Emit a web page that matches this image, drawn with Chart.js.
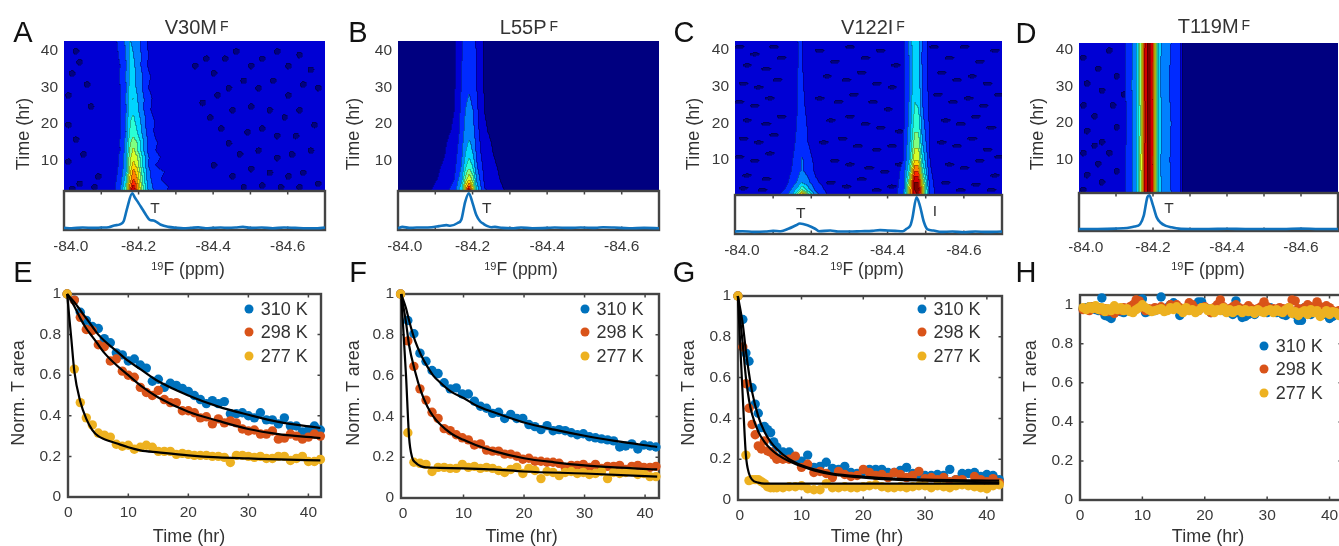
<!DOCTYPE html>
<html>
<head>
<meta charset="utf-8">
<script src="https://cdn.jsdelivr.net/npm/chart.js@4"></script>
<style>
html, body { margin: 0; padding: 0; background: #fff; overflow: hidden; }
#stage { position: absolute; left: 0; top: 0; width: 1339px; height: 546px; overflow: hidden; filter: blur(0.4px); font-family: "Liberation Sans", sans-serif; color: #333; }
#stage canvas { position: absolute; }
.txt { position: absolute; white-space: nowrap; transform: translate(-50%, -50%); }
.txt sup { font-size: 14px; position: relative; top: -3px; vertical-align: baseline; margin-left: 3px; }
.dot { position: absolute; width: 9px; height: 9px; border-radius: 50%; transform: translate(-50%, -50%); }
</style>
</head>
<body>
<div id="stage"></div>
<script>
// tick labels
const ppmTicks = [-84.018, -84.2, -84.4, -84.6];
const ppmMinor = [-84.1, -84.2, -84.3, -84.4, -84.5, -84.6];
const timeTicks = [10, 20, 30, 40];
const hourTicks = [0, 10, 20, 30, 40];
const areaTicks = [0, 0.2, 0.4, 0.6, 0.8, 1];
const tempLabels = ['310 K', '298 K', '277 K'];
const tempColors = ['#0072bd', '#d95319', '#edb120'];

// heat maps: contour level (0-12) per time row and ppm column
const colsA = [-84.09, -84.13, -84.15, -84.165, -84.175, -84.185, -84.195, -84.21, -84.225, -84.245, -84.27, -84.30];
const rowsA = [1.5, 3, 5, 7, 9, 11, 13, 15, 18, 21, 24, 27, 30, 33, 36, 39, 43];
const gridA = [
  [1.4, 1.6, 3.0, 6.0, 10, 12.9, 10, 6.5, 4.0, 2.6, 2.1, 1.5],
  [1.4, 1.7, 2.8, 5.4, 9.2, 11.6, 9.8, 6.2, 3.7, 2.5, 2.2, 1.5],
  [1.4, 1.5, 2.5, 4.6, 8.2, 10.2, 9.2, 5.6, 3.4, 2.3, 1.8, 1.4],
  [1.4, 1.6, 2.3, 4.0, 7.5, 9.5, 8.5, 5.5, 3.3, 2.2, 2.0, 1.4],
  [1.4, 1.5, 2.2, 3.7, 6.8, 8.4, 7.6, 4.8, 3.0, 2.0, 1.7, 1.4],
  [1.4, 1.5, 2.2, 3.8, 6.6, 7.8, 7.2, 4.9, 3.1, 2.2, 1.8, 1.4],
  [1.4, 1.5, 2.0, 3.3, 6.0, 7.3, 6.2, 4.2, 2.7, 2.0, 1.6, 1.4],
  [1.4, 1.4, 2.1, 3.4, 5.8, 6.6, 6.0, 4.3, 2.9, 2.1, 1.5, 1.4],
  [1.4, 1.5, 1.9, 3.0, 5.0, 5.6, 5.0, 3.7, 2.5, 1.8, 1.5, 1.4],
  [1.4, 1.4, 2.0, 3.2, 4.9, 5.2, 4.7, 3.6, 2.5, 1.9, 1.4, 1.4],
  [1.4, 1.5, 1.9, 2.9, 4.6, 4.9, 4.2, 3.2, 2.2, 1.6, 1.4, 1.4],
  [1.4, 1.4, 2.0, 3.1, 4.4, 5.1, 4.1, 3.2, 2.3, 1.7, 1.4, 1.4],
  [1.4, 1.5, 2.0, 2.9, 4.3, 4.4, 3.8, 2.9, 2.0, 1.6, 1.4, 1.4],
  [1.4, 1.5, 2.1, 3.1, 4.1, 4.6, 3.7, 3.0, 2.2, 1.5, 1.4, 1.4],
  [1.4, 1.6, 2.0, 2.9, 4.0, 4.2, 3.6, 2.7, 1.9, 1.5, 1.4, 1.4],
  [1.4, 1.5, 2.2, 3.1, 4.2, 4.0, 3.5, 2.8, 2.0, 1.5, 1.4, 1.4],
  [1.4, 1.7, 2.3, 3.2, 4.0, 3.9, 3.4, 2.6, 1.8, 1.5, 1.4, 1.4]
];
const spotsA = [[-84.35, 36], [-84.38, 38], [-84.40, 34], [-84.43, 38], [-84.46, 40], [-84.50, 36], [-84.53, 38], [-84.57, 40], [-84.60, 36], [-84.63, 39], [-84.66, 35], [-84.68, 30], [-84.64, 31], [-84.60, 28], [-84.56, 32], [-84.52, 30], [-84.48, 32], [-84.44, 30], [-84.41, 28], [-84.37, 26], [-84.45, 24], [-84.50, 25], [-84.55, 24], [-84.59, 22], [-84.63, 24], [-84.67, 20], [-84.62, 17], [-84.57, 17], [-84.53, 19], [-84.49, 18], [-84.44, 15], [-84.42, 19], [-84.39, 22], [-84.47, 12], [-84.52, 13], [-84.57, 11], [-84.61, 12], [-84.66, 13], [-84.64, 7], [-84.60, 6], [-84.55, 7], [-84.50, 8], [-84.45, 6], [-84.40, 9], [-84.48, 3], [-84.53, 3.5], [-84.58, 3], [-84.63, 3], [-84.68, 4], [-84.01, 28], [-84.01, 20], [-84.04, 37], [-84.06, 31], [-84.02, 34], [-84.03, 16], [-84.01, 10], [-84.05, 12], [-84.09, 6], [-84.04, 4], [-84.02, 2.5], [-84.08, 3], [-84.03, 40], [-84.07, 25]];

const colsB = [-84.08, -84.12, -84.15, -84.17, -84.18, -84.19, -84.20, -84.21, -84.23, -84.26, -84.29];
const rowsB = [1.5, 3, 5, 8, 12, 18, 24, 30, 36, 43];
const gridB = [
  [0.9, 1.6, 2.6, 5.0, 9.0, 12.9, 9.0, 5.0, 2.2, 1.6, 0.9],
  [0.8, 1.4, 2.3, 4.5, 8.0, 10.5, 8.0, 4.4, 2.0, 1.4, 0.8],
  [0.7, 1.2, 2.0, 3.8, 6.5, 8.0, 6.5, 3.8, 1.9, 1.2, 0.7],
  [0.6, 1.1, 1.8, 3.2, 5.0, 6.0, 5.0, 3.2, 1.7, 1.1, 0.6],
  [0.5, 0.9, 1.5, 2.9, 4.0, 4.6, 4.0, 2.8, 1.4, 0.9, 0.5],
  [0.4, 0.8, 1.1, 2.5, 3.4, 3.7, 3.3, 2.4, 1.1, 0.8, 0.4],
  [0.4, 0.7, 1.0, 2.3, 3.0, 3.3, 3.0, 2.2, 1.0, 0.7, 0.4],
  [0.4, 0.7, 0.9, 2.1, 2.7, 2.9, 2.6, 2.0, 0.95, 0.7, 0.4],
  [0.4, 0.7, 0.9, 2.0, 2.5, 2.7, 2.5, 1.9, 0.95, 0.7, 0.4],
  [0.4, 0.7, 0.9, 1.9, 2.3, 2.5, 2.3, 1.9, 0.95, 0.7, 0.4]
];
const spotsB = [];

const colsC = [-84.09, -84.13, -84.15, -84.165, -84.175, -84.19, -84.21, -84.25, -84.40, -84.44, -84.455, -84.47, -84.48, -84.49, -84.51, -84.54];
const rowsC = [0.4, 2, 4, 7, 10, 15, 20, 26, 32, 38, 43];
const gridC = [
  [1.3, 2.5, 4.0, 7.0, 10, 7.0, 3.5, 1.5, 1.3, 2.5, 8.0, 11.8, 12, 9.0, 2.5, 1.3],
  [1.2, 2.0, 3.2, 4.6, 6.0, 4.5, 2.8, 1.4, 1.3, 2.4, 7.5, 12, 12.5, 9.0, 2.4, 1.3],
  [1.2, 1.6, 2.5, 3.2, 3.9, 3.3, 2.2, 1.3, 1.3, 2.3, 6.5, 12, 12, 8.0, 2.3, 1.3],
  [1.2, 1.5, 2.1, 2.8, 3.1, 2.7, 1.8, 1.3, 1.3, 2.2, 5.0, 10, 10, 6.0, 2.1, 1.3],
  [1.2, 1.4, 2.0, 2.6, 3.1, 2.5, 1.7, 1.2, 1.3, 2.0, 4.0, 8.0, 8.0, 5.0, 2.0, 1.3],
  [1.2, 1.4, 1.7, 2.4, 2.6, 2.0, 1.3, 1.2, 1.3, 1.9, 3.5, 6.5, 6.5, 4.0, 1.9, 1.2],
  [1.2, 1.3, 1.5, 2.2, 2.4, 1.9, 1.3, 1.2, 1.2, 1.8, 3.2, 5.5, 5.5, 3.4, 1.8, 1.2],
  [1.2, 1.3, 1.5, 2.1, 2.2, 1.7, 1.3, 1.2, 1.2, 1.7, 3.0, 5.0, 4.8, 3.0, 1.7, 1.2],
  [1.2, 1.3, 1.4, 2.1, 2.1, 1.6, 1.3, 1.2, 1.2, 1.7, 3.0, 4.8, 4.5, 2.9, 1.6, 1.2],
  [1.2, 1.3, 1.4, 2.0, 2.0, 1.5, 1.3, 1.2, 1.2, 1.7, 3.0, 4.6, 4.4, 2.8, 1.6, 1.2],
  [1.2, 1.3, 1.5, 2.05, 2.0, 1.5, 1.3, 1.2, 1.2, 1.8, 3.1, 5.0, 4.6, 2.9, 1.6, 1.2]
];
const spotsC = [[-84.01, 41], [-84.05, 39], [-84.1, 41], [-84.03, 36], [-84.08, 35], [-84.12, 38], [-84.02, 31], [-84.06, 30], [-84.11, 32], [-84.01, 26], [-84.05, 25], [-84.09, 27], [-84.03, 21], [-84.08, 20], [-84.12, 22], [-84.02, 16], [-84.06, 15], [-84.1, 17], [-84.01, 11], [-84.05, 10], [-84.09, 12], [-84.03, 6], [-84.08, 5], [-84.02, 2.5], [-84.07, 2],
  [-84.22, 40], [-84.26, 37], [-84.3, 41], [-84.34, 38], [-84.38, 40], [-84.42, 36], [-84.24, 33], [-84.29, 32], [-84.33, 34], [-84.37, 31], [-84.41, 30], [-84.22, 27], [-84.27, 26], [-84.31, 28], [-84.36, 26], [-84.4, 24], [-84.25, 21], [-84.3, 22], [-84.34, 20], [-84.38, 19], [-84.43, 18], [-84.23, 15], [-84.28, 16], [-84.32, 14], [-84.37, 13], [-84.41, 14], [-84.26, 10], [-84.3, 9], [-84.35, 8], [-84.39, 7], [-84.43, 9], [-84.25, 4], [-84.29, 3], [-84.33, 5], [-84.37, 2], [-84.41, 3],
  [-84.52, 41], [-84.56, 38], [-84.6, 41], [-84.64, 37], [-84.68, 40], [-84.54, 34], [-84.58, 32], [-84.62, 33], [-84.66, 31], [-84.53, 28], [-84.57, 26], [-84.61, 27], [-84.65, 25], [-84.69, 28], [-84.55, 21], [-84.59, 20], [-84.63, 22], [-84.67, 19], [-84.54, 15], [-84.58, 14], [-84.62, 16], [-84.66, 13], [-84.69, 11], [-84.56, 9], [-84.6, 8], [-84.64, 10], [-84.68, 6], [-84.55, 4], [-84.59, 2], [-84.63, 3.5], [-84.67, 2]];

const colsD = [-84.02, -84.05, -84.12, -84.135, -84.15, -84.16, -84.17, -84.178, -84.188, -84.198, -84.205, -84.213, -84.225, -84.27, -84.278, -84.32, -84.7];
const rowsD = [1, 10, 20, 30, 42];
const gridD = [
  [1.3, 1.4, 1.7, 2.6, 3.4, 5.0, 8.0, 11.5, 12.5, 11.5, 8.0, 5.0, 3.4, 2.6, 0.9, 0.9, 0.8],
  [1.3, 1.4, 1.7, 2.6, 3.4, 5.2, 8.2, 11.5, 12.5, 11.3, 7.8, 5.0, 3.3, 2.6, 0.9, 0.9, 0.8],
  [1.3, 1.4, 1.6, 2.5, 3.3, 4.8, 7.8, 11.3, 12.5, 11.5, 8.2, 5.2, 3.5, 2.5, 0.9, 0.9, 0.8],
  [1.3, 1.4, 1.7, 2.6, 3.5, 5.1, 8.1, 11.5, 12.4, 11.2, 7.9, 4.9, 3.3, 2.5, 0.9, 0.9, 0.8],
  [1.3, 1.4, 1.7, 2.5, 3.4, 5.0, 8.0, 11.4, 12.5, 11.4, 8.0, 5.0, 3.4, 2.6, 0.9, 0.9, 0.8]
];
const spotsD = [[-84.01, 38], [-84.05, 35], [-84.08, 40], [-84.02, 31], [-84.06, 29], [-84.1, 33], [-84.01, 25], [-84.04, 22], [-84.09, 25], [-84.02, 18], [-84.06, 15], [-84.1, 19], [-84.01, 12], [-84.05, 9], [-84.08, 12], [-84.02, 6], [-84.06, 4], [-84.1, 7], [-84.01, 2], [-84.04, 14], [-84.12, 28]];

// 1D spectra under the heat maps
const specAx = [-84.0, -84.02, -84.05, -84.08, -84.10, -84.12, -84.135, -84.15, -84.16, -84.17, -84.183, -84.19, -84.20, -84.21, -84.22, -84.23, -84.24, -84.25, -84.26, -84.28, -84.30, -84.32, -84.34, -84.36, -84.38, -84.40, -84.42, -84.44, -84.46, -84.48, -84.50, -84.53, -84.56, -84.59, -84.62, -84.65, -84.68, -84.70];
const specAy = [0.01, 0.0, 0.02, 0.01, 0.02, 0.03, 0.08, 0.11, 0.2, 0.6, 1.0, 0.88, 0.72, 0.55, 0.38, 0.24, 0.22, 0.17, 0.1, 0.04, 0.015, 0.0, 0.01, 0.025, 0.0, 0.01, 0.02, 0.01, 0.02, 0.04, 0.01, 0.02, 0.0, 0.02, 0.01, 0.0, 0.0, 0.02];
const specBx = [-84.0, -84.012, -84.03, -84.05, -84.07, -84.09, -84.11, -84.13, -84.14, -84.16, -84.17, -84.18, -84.19, -84.20, -84.21, -84.22, -84.23, -84.24, -84.25, -84.26, -84.28, -84.31, -84.33, -84.36, -84.40, -84.42, -84.46, -84.49, -84.53, -84.55, -84.58, -84.62, -84.66, -84.70];
const specBy = [0.0, 0.04, 0.01, 0.02, 0.02, 0.03, 0.06, 0.09, 0.07, 0.15, 0.25, 0.75, 1.0, 0.72, 0.38, 0.2, 0.12, 0.06, 0.03, 0.04, 0.01, 0.0, 0.02, 0.0, 0.01, 0.02, 0.01, 0.02, 0.01, 0.03, 0.02, 0.0, 0.01, 0.0];
const specCx = [-84.0, -84.02, -84.05, -84.08, -84.10, -84.12, -84.14, -84.16, -84.17, -84.19, -84.21, -84.22, -84.25, -84.27, -84.30, -84.33, -84.36, -84.38, -84.40, -84.42, -84.44, -84.45, -84.46, -84.465, -84.476, -84.485, -84.495, -84.505, -84.52, -84.54, -84.57, -84.60, -84.63, -84.66, -84.70];
const specCy = [0.02, 0.03, 0.01, 0.02, 0.04, 0.03, 0.1, 0.2, 0.25, 0.2, 0.1, 0.03, 0.05, 0.02, 0.02, 0.03, 0.04, 0.06, 0.05, 0.04, 0.03, 0.1, 0.2, 0.4, 1.0, 0.75, 0.3, 0.08, 0.05, 0.01, 0.02, 0.0, 0.02, 0.01, 0.02];
const specDx = [-84.0, -84.05, -84.1, -84.13, -84.15, -84.165, -84.175, -84.185, -84.19, -84.20, -84.21, -84.22, -84.235, -84.25, -84.27, -84.30, -84.35, -84.40, -84.45, -84.50, -84.55, -84.60, -84.65, -84.70];
const specDy = [0.01, 0.01, 0.02, 0.04, 0.08, 0.15, 0.4, 0.95, 1.0, 0.7, 0.35, 0.2, 0.1, 0.06, 0.02, 0.01, 0.01, 0.015, 0.01, 0.01, 0.01, 0.02, 0.01, 0.01];

// decay curves
const timeE = [-0.2, 1, 2, 3, 4, 5, 6, 7, 8, 9, 10, 11, 12, 13, 14, 15, 16, 17, 18, 19, 20, 21, 22, 23, 24, 25, 26, 27, 28, 29, 30, 31, 32, 33, 34, 35, 36, 37, 38, 39, 40, 41, 42];
const e310 = [1, .97, .91, .87, .84, .83, .78, .76, .71, .70, .67, .68, .65, .635, .57, .58, .54, .56, .55, .535, .52, .50, .48, .46, .475, .46, .47, .41, .41, .415, .40, .39, .415, .38, .38, .36, .39, .35, .35, .32, .33, .35, .33];
const e298 = [1, .97, .885, .825, .82, .75, .74, .67, .68, .62, .60, .59, .54, .515, .50, .525, .48, .465, .465, .425, .425, .415, .39, .395, .36, .385, .365, .375, .365, .335, .325, .33, .31, .31, .325, .285, .29, .31, .30, .285, .295, .31, .30];
const e277 = [1, .63, .465, .39, .355, .315, .305, .295, .26, .25, .255, .235, .245, .255, .245, .225, .225, .225, .21, .215, .21, .205, .205, .205, .2, .2, .195, .17, .205, .205, .2, .195, .2, .19, .19, .2, .2, .18, .19, .2, .175, .175, .185];
const fitTimeE = [-0.2, 1, 2, 3, 4, 5, 6, 8, 10, 12, 15, 20, 25, 30, 35, 42];
const eFit310 = [1, .96, .92, .88, .84, .80, .77, .72, .67, .63, .57, .50, .445, .405, .37, .34];
const eFit298 = [1, .94, .88, .83, .79, .75, .71, .65, .60, .55, .49, .42, .375, .335, .31, .29];
const fitTimeE277 = [-0.2, .5, 1, 2, 3, 4, 5, 6, 8, 10, 12, 15, 20, 25, 30, 35, 42];
const eFit277 = [1, .78, .62, .47, .385, .33, .30, .285, .265, .245, .23, .22, .205, .195, .19, .185, .18];

const timeF = [-0.4, .8, 1.8, 2.8, 3.8, 4.8, 5.8, 6.8, 7.8, 8.8, 9.8, 10.8, 11.8, 12.8, 13.8, 14.8, 15.8, 16.8, 17.8, 18.8, 19.8, 20.8, 21.8, 22.8, 23.8, 24.8, 25.8, 26.8, 27.8, 28.8, 29.8, 30.8, 31.8, 32.8, 33.8, 34.8, 35.8, 36.8, 37.8, 38.8, 39.8, 40.8, 41.8];
const f310 = [1, .87, .805, .71, .67, .625, .61, .565, .535, .54, .51, .51, .475, .45, .44, .415, .42, .39, .41, .39, .39, .36, .35, .335, .355, .33, .335, .33, .32, .31, .315, .30, .295, .29, .285, .28, .25, .255, .265, .24, .26, .255, .25];
const f298 = [1, .77, .645, .535, .48, .42, .39, .34, .33, .31, .295, .285, .26, .265, .235, .23, .23, .215, .215, .205, .19, .195, .18, .18, .175, .175, .17, .15, .16, .16, .165, .15, .165, .145, .155, .155, .16, .14, .155, .16, .15, .15, .155];
const f277 = [1, .32, .175, .17, .165, .13, .15, .15, .145, .145, .165, .15, .155, .145, .15, .145, .135, .125, .14, .15, .12, .145, .135, .095, .13, .125, .11, .125, .13, .12, .125, .115, .12, .13, .095, .125, .12, .125, .13, .115, .12, .105, .105];
const fitTimeF = [-0.3, .5, 1, 2, 3, 4, 5, 6, 8, 10, 12, 15, 20, 25, 30, 35, 42];
const fFit310 = [1, .93, .87, .77, .70, .645, .60, .57, .52, .49, .455, .42, .37, .335, .305, .28, .25];
const fFit298 = [1, .86, .75, .62, .52, .45, .40, .365, .315, .285, .26, .23, .195, .175, .16, .15, .14];
const fitTimeF277 = [-0.3, .5, 1, 1.5, 2, 3, 4, 6, 10, 15, 20, 30, 42];
const fFit277 = [1, .6, .3, .2, .175, .155, .15, .148, .145, .14, .13, .12, .105];

const timeG = [-0.3, .5, 1, 1.5, 2, 2.5, 3, 3.5, 4, 4.5, 5, 5.5, 6, 7, 8, 9, 10, 11, 12, 13, 14, 15, 16, 17, 18, 19, 20, 21, 22, 23, 24, 25, 26, 27, 28, 29, 30, 31, 32, 33, 34, 35, 36, 37, 38, 39, 40, 41, 42];
const g310 = [1, .885, .72, .68, .55, .47, .425, .355, .36, .345, .33, .285, .26, .235, .235, .2, .19, .22, .16, .165, .185, .155, .15, .165, .135, .13, .14, .15, .15, .15, .135, .135, .145, .16, .13, .125, .12, .12, .125, .12, .15, .1, .13, .13, .135, .115, .125, .12, .10];
const g298 = [1, .75, .57, .45, .37, .32, .265, .25, .29, .24, .235, .22, .2, .2, .2, .215, .16, .175, .135, .14, .13, .11, .14, .125, .115, .12, .15, .135, .12, .125, .11, .135, .125, .11, .12, .14, .105, .11, .1, .11, .09, .1, .1, .075, .115, .1, .09, .105, .085];
const g277 = [1, null, .22, .095, .1, .1, .1, .09, .08, .065, .06, .06, .06, .06, .065, .065, .07, .055, .05, .05, .08, .06, .06, .065, .06, .06, .065, .07, .075, .065, .06, .06, .065, .06, .065, .07, .07, .06, .07, .065, .06, .07, .075, .07, .065, .06, .055, .07, .075];
const fitTimeG = [-0.3, .5, 1, 1.5, 2, 3, 4, 5, 6, 8, 10, 12, 15, 20, 25, 30, 42];
const gFit310 = [1, .86, .73, .62, .53, .41, .335, .285, .25, .2, .17, .15, .13, .115, .105, .1, .095];
const gFit298 = [1, .76, .6, .49, .42, .335, .285, .25, .225, .19, .165, .145, .125, .11, .1, .095, .085];
const fitTimeG277 = [-0.3, .5, 1, 1.5, 2, 3, 4, 6, 10, 20, 42];
const gFit277 = [1, .5, .22, .13, .1, .085, .08, .08, .08, .08, .08];

const timeH = [.5, 1, 1.5, 2, 2.5, 3, 3.5, 4, 4.5, 5, 5.5, 6, 6.5, 7, 7.5, 8, 8.5, 9, 9.5, 10, 10.5, 11, 11.5, 12, 12.5, 13, 13.5, 14, 14.5, 15, 15.5, 16, 16.5, 17, 17.5, 18, 18.5, 19, 19.5, 20, 20.5, 21, 21.5, 22, 22.5, 23, 23.5, 24, 24.5, 25, 25.5, 26, 26.5, 27, 27.5, 28, 28.5, 29, 29.5, 30, 30.5, 31, 31.5, 32, 32.5, 33, 33.5, 34, 34.5, 35, 35.5, 36, 36.5, 37, 37.5, 38, 38.5, 39, 39.5, 40, 40.5, 41, 41.5, 42];
const h310 = [.98, .985, .99, .985, .975, .97, 1.035, .945, .94, .93, .96, .97, .965, .96, .97, .975, .98, .99, 1.0, 1.03, .96, .965, .975, .97, .98, 1.04, .98, .985, 1.0, 1.01, .99, .945, .97, .98, .985, .975, .97, 1.015, 1.015, .985, .98, .96, .97, .98, .985, .97, .97, .96, .95, 1.02, .96, .935, .94, .95, .96, .95, .97, .975, .97, .96, .985, .975, .96, .97, .95, .945, .975, .96, .95, .92, .92, .985, .96, .95, .97, .96, .955, .95, .95, .93, .94, .95, .955, .97];
const h298 = [.975, .98, .97, .99, .98, .985, .97, .98, .965, .97, .955, .98, .97, .985, .975, .99, 1.0, 1.025, 1.02, .99, .97, .98, .97, .985, .975, .99, .98, .975, 1.0, .99, 1.0, .985, .97, .98, 1.01, 1.0, .98, .97, .985, .99, .975, .96, .985, 1.0, 1.025, .99, .97, .98, .99, 1.0, .985, .97, .98, .995, .98, .975, .98, .99, 1.015, .99, .975, .98, .97, .985, .98, .97, .985, 1.025, 1.02, .98, .96, .985, 1.0, .99, .975, 1.015, .99, .97, .995, .985, .97, .96, .97, .975];
const h277 = [.985, .975, .99, .98, .995, .975, .985, .965, .98, .97, .995, .975, .985, .97, .98, .965, .96, .975, .985, 1.0, .985, .975, .965, .97, .975, .98, .965, .97, .985, .975, .99, .975, .96, .985, .97, .975, .96, .97, .985, .985, .97, .98, .96, .975, .97, .985, .96, .975, .96, .97, .975, .96, .975, .965, .97, .955, .975, .965, .96, .97, .975, .96, .975, .965, .96, .975, .985, .955, .965, .945, .96, .97, .95, .975, .96, .97, .94, .955, .97, .95, .965, .96, .945, .96];

// panel geometry
const panels = [
  { heat: { l: 63.5, t: 40.7, r: 324, b: 191 }, spec: 230, tRange: [1.55, 42.6], cols: colsA, rows: rowsA, grid: gridA, spots: spotsA, sx: specAx, sy: specAy },
  { heat: { l: 398, t: 40.7, r: 659, b: 191 }, spec: 230, tRange: [1.55, 42.6], cols: colsB, rows: rowsB, grid: gridB, spots: spotsB, sx: specBx, sy: specBy },
  { heat: { l: 735, t: 41.3, r: 1001.7, b: 195 }, spec: 234, tRange: [0.45, 42.4], cols: colsC, rows: rowsC, grid: gridC, spots: spotsC, sx: specCx, sy: specCy, spotW: 0.012, spotH: 0.45 },
  { heat: { l: 1079, t: 43.3, r: 1338, b: 193.3 }, spec: 231, tRange: [0.9, 41.8], cols: colsD, rows: rowsD, grid: gridD, spots: spotsD, sx: specDx, sy: specDy }
];
const decays = [
  { box: { l: 67.7, t: 294, r: 320.7, b: 496.7 }, xr: [-0.05, 42.1], yMax: 1, t: timeE, s: [e310, e298, e277], fits: [[fitTimeE, eFit310], [fitTimeE, eFit298], [fitTimeE277, eFit277]] },
  { box: { l: 400.7, t: 294, r: 658, b: 498 }, xr: [-0.33, 42.3], yMax: 1, t: timeF, s: [f310, f298, f277], fits: [[fitTimeF, fFit310], [fitTimeF, fFit298], [fitTimeF277, fFit277]] },
  { box: { l: 738.3, t: 295.7, r: 1001.7, b: 499.3 }, xr: [-0.28, 42.45], yMax: 1, t: timeG, s: [g310, g298, g277], fits: [[fitTimeG, gFit310], [fitTimeG, gFit298], [fitTimeG277, gFit277]] },
  { box: { l: 1080, t: 295, r: 1341.7, b: 499.3 }, xr: [0, 42], yMax: 1.05, t: timeH, s: [h310, h298, h277], fits: [] }
];

const stage = document.getElementById('stage');
const tickFont = { family: '"Liberation Sans", sans-serif', size: 15.5 };
const tickColor = '#3a3a3a';
const spineColor = '#444';

function addText(html, x, y, size, rotate) {
  const d = document.createElement('div');
  d.className = 'txt';
  d.innerHTML = html;
  d.style.left = x + 'px';
  d.style.top = y + 'px';
  d.style.fontSize = size + 'px';
  if (rotate) d.style.transform = 'translate(-50%, -50%) rotate(-90deg)';
  stage.appendChild(d);
  return d;
}

function jet(t) {
  const c = v => Math.round(255 * Math.max(0, Math.min(1, v)));
  return [c(1.5 - Math.abs(4 * t - 3)), c(1.5 - Math.abs(4 * t - 2)), c(1.5 - Math.abs(4 * t - 1))];
}
const levelColors = Array.from({ length: 13 }, (_, i) => jet(i / 12));

function lookup(list, v) {
  // list is in falling or rising order, returns index and weight
  const sign = list[list.length - 1] > list[0] ? 1 : -1;
  if ((v - list[0]) * sign <= 0) return [0, 0];
  for (let i = 1; i < list.length; i++) {
    if ((v - list[i]) * sign <= 0) return [i - 1, (v - list[i - 1]) / (list[i] - list[i - 1])];
  }
  return [list.length - 2, 1];
}

function heatPlugin(p) {
  return {
    id: 'heat',
    beforeDatasetsDraw(chart) {
      const { ctx, chartArea: a, scales: { x, y } } = chart;
      const w = Math.ceil(a.width), h = Math.ceil(a.height);
      const levels = new Uint8Array(w * h);
      const cx = [], ry = [];
      for (let i = 0; i < w; i++) cx.push(lookup(p.cols, x.getValueForPixel(a.left + i + 0.5)));
      for (let j = 0; j < h; j++) ry.push(lookup(p.rows, y.getValueForPixel(a.top + j + 0.5)));
      for (let j = 0; j < h; j++) {
        const [r, fr] = ry[j];
        for (let i = 0; i < w; i++) {
          const [c, fc] = cx[i];
          const top = p.grid[r][c] * (1 - fc) + p.grid[r][c + 1] * fc;
          const bot = p.grid[r + 1][c] * (1 - fc) + p.grid[r + 1][c + 1] * fc;
          levels[j * w + i] = Math.min(12, Math.floor(top * (1 - fr) + bot * fr));
        }
      }
      // low noise patches drop to the darkest level
      const rw = p.spotW || 0.008, rh = p.spotH || 0.8;
      p.spots.forEach(s => {
        const px = x.getPixelForValue(s[0]) - a.left, py = y.getPixelForValue(s[1]) - a.top;
        const ax = Math.abs(x.getPixelForValue(s[0] + rw) - x.getPixelForValue(s[0]));
        const ay = Math.abs(y.getPixelForValue(s[1] + rh) - y.getPixelForValue(s[1]));
        for (let j = Math.max(0, Math.floor(py - ay)); j <= Math.min(h - 1, py + ay); j++) {
          for (let i = Math.max(0, Math.floor(px - ax)); i <= Math.min(w - 1, px + ax); i++) {
            const d = ((i - px) / ax) ** 2 + ((j - py) / ay) ** 2;
            if (d <= 1 && levels[j * w + i] === 1) levels[j * w + i] = 0;
          }
        }
      });
      const off = document.createElement('canvas');
      off.width = w; off.height = h;
      const octx = off.getContext('2d');
      const img = octx.createImageData(w, h);
      for (let j = 0; j < h; j++) {
        for (let i = 0; i < w; i++) {
          const k = j * w + i, lv = levels[k];
          const edge = (i > 0 && levels[k - 1] !== lv) || (j > 0 && levels[k - w] !== lv);
          const col = levelColors[lv], f = edge ? 0.72 : 1;
          img.data.set([col[0] * f, col[1] * f, col[2] * f, 255], k * 4);
        }
      }
      octx.putImageData(img, 0, 0);
      ctx.save();
      ctx.beginPath();
      ctx.rect(a.left, a.top, a.width, a.height);
      ctx.clip();
      ctx.filter = 'blur(0.7px)';
      ctx.drawImage(off, a.left, a.top, a.width, a.height);
      ctx.restore();
    }
  };
}

// box on all four sides with short inward ticks
function boxPlugin(xt, yt) {
  return {
    id: 'box',
    beforeDatasetsDraw(chart) {
      const { ctx, chartArea: a, scales: { x, y } } = chart;
      ctx.save();
      ctx.strokeStyle = spineColor;
      ctx.lineWidth = 1.5;
      ctx.beginPath();
      xt.forEach(v => {
        const p = x.getPixelForValue(v);
        ctx.moveTo(p, a.top); ctx.lineTo(p, a.top + 3.5);
        ctx.moveTo(p, a.bottom); ctx.lineTo(p, a.bottom - 3.5);
      });
      yt.forEach(v => {
        const p = y.getPixelForValue(v);
        ctx.moveTo(a.left, p); ctx.lineTo(a.left + 3.5, p);
        ctx.moveTo(a.right, p); ctx.lineTo(a.right - 3.5, p);
      });
      ctx.stroke();
      ctx.lineWidth = 2.4;
      ctx.strokeRect(a.left, a.top, a.right - a.left, a.bottom - a.top);
      ctx.restore();
    }
  };
}

function makeCanvas(box, padL, padT, padR, padB) {
  const c = document.createElement('canvas');
  const w = Math.ceil(box.r - box.l + padL + padR), h = Math.ceil(box.b - box.t + padT + padB);
  c.width = w; c.height = h;
  c.style.left = (box.l - padL) + 'px';
  c.style.top = (box.t - padT) + 'px';
  c.style.width = w + 'px';
  c.style.height = h + 'px';
  stage.appendChild(c);
  return c;
}

function pts(xs, ys) {
  return xs.map((x, i) => ({ x: x, y: ys[i] }));
}

const baseOptions = { responsive: false, animation: false, devicePixelRatio: 1, events: [], plugins: { legend: { display: false }, tooltip: { enabled: false } } };

// fixes the axis band and drops the room chart.js keeps for label overhang
function fixSize(prop, size) {
  return s => {
    s[prop] = size;
    s.paddingTop = s.paddingBottom = s.paddingLeft = s.paddingRight = 0;
  };
}

function ticksAxis(values, fmt, pad) {
  return {
    afterBuildTicks: s => { s.ticks = values.map(v => ({ value: v })); },
    grid: { display: false, drawTicks: false },
    border: { display: false },
    ticks: { autoSkip: false, maxRotation: 0, minRotation: 0, font: tickFont, color: tickColor, padding: pad, callback: fmt }
  };
}

panels.forEach(p => {
  // contour map
  const padL = 40;
  new Chart(makeCanvas(p.heat, padL, 0, 2, 0), {
    type: 'scatter',
    data: { datasets: [{ data: [] }] },
    plugins: [heatPlugin(p)],
    options: Object.assign({}, baseOptions, {
      layout: { padding: { left: 0, top: 0, right: 2, bottom: 0 } },
      scales: {
        x: { type: 'linear', display: false, reverse: true, min: -84.7, max: -84.0 },
        y: Object.assign(ticksAxis(timeTicks, v => String(v), 6), {
          type: 'linear', min: p.tRange[0], max: p.tRange[1],
          afterFit: fixSize('width', padL)
        })
      }
    })
  });
  // spectrum below it
  const specBox = { l: p.heat.l, t: p.heat.b, r: p.heat.r, b: p.spec };
  new Chart(makeCanvas(specBox, 10, 2, 10, 30), {
    type: 'scatter',
    data: { datasets: [{ data: pts(p.sx, p.sy), showLine: true, borderColor: '#1072bd', borderWidth: 2.6, pointRadius: 0, cubicInterpolationMode: 'monotone', clip: false }] },
    plugins: [boxPlugin(ppmMinor, [])],
    options: Object.assign({}, baseOptions, {
      layout: { padding: { left: 10, top: 2, right: 10, bottom: 0 } },
      scales: {
        x: Object.assign(ticksAxis(ppmTicks, v => v.toFixed(1), 7), {
          type: 'linear', reverse: true, min: -84.7, max: -84.0,
          afterFit: fixSize('height', 30)
        }),
        y: { type: 'linear', display: false, min: -0.05, max: 1.066 }
      }
    })
  });
});

decays.forEach(d => {
  const padL = 45;
  const sets = [];
  d.fits.forEach(f => {
    sets.push({ data: pts(f[0], f[1]), showLine: true, borderColor: '#000', borderWidth: 2.2, pointRadius: 0, cubicInterpolationMode: 'monotone', clip: false, order: 0 });
  });
  d.s.forEach((vals, i) => {
    sets.push({ data: pts(d.t, vals), showLine: false, pointRadius: 4.7, pointBorderWidth: 0, backgroundColor: tempColors[i], clip: false, order: 3 - i });
  });
  new Chart(makeCanvas(d.box, padL, 8, 10, 26), {
    type: 'scatter',
    data: { datasets: sets },
    plugins: [boxPlugin(hourTicks.filter(v => v > 0), areaTicks.slice(1, 5))],
    options: Object.assign({}, baseOptions, {
      layout: { padding: { left: 0, top: 8, right: 10, bottom: 0 } },
      scales: {
        x: Object.assign(ticksAxis(hourTicks, v => String(v), 6), {
          type: 'linear', min: d.xr[0], max: d.xr[1],
          afterFit: fixSize('height', 26)
        }),
        y: Object.assign(ticksAxis(areaTicks, v => String(v), 7), {
          type: 'linear', min: 0, max: d.yMax,
          afterFit: fixSize('width', padL)
        })
      }
    })
  });
});

// panel titles and letters
addText('V30M<sup>F</sup>', 196.7, 27, 20);
addText('L55P<sup>F</sup>', 529, 27, 20);
addText('V122I<sup>F</sup>', 873, 27, 20);
addText('T119M<sup>F</sup>', 1214, 26, 20);
[['A', 23, 32], ['B', 358, 32], ['C', 684, 32], ['D', 1026, 33], ['E', 23, 272], ['F', 358, 272], ['G', 684, 272], ['H', 1026, 272]].forEach(l => {
  addText(l[0], l[1], l[2], 29).style.color = '#111';
});

// axis titles
[[23.3, 134], [353, 134], [693, 134], [1036.7, 134]].forEach(a => addText('Time (hr)', a[0], a[1], 18, true));
[188, 521, 867, 1208].forEach(x => addText('<span style="font-size:11px;position:relative;top:-5px">19</span>F (ppm)', x, 269, 17.5));
[189, 521.7, 867, 1208].forEach(x => addText('Time (hr)', x, 535.7, 18));
[[18, 393], [353, 393], [688, 393], [1030, 393]].forEach(a => addText('Norm. T area', a[0], a[1], 18, true));

// peak labels
[['T', 155, 208], ['T', 486.7, 208], ['T', 800.7, 213], ['I', 935, 210.7], ['T', 1169, 208]].forEach(t => addText(t[0], t[1], t[2], 15.5));

// legends
[[249.3, 309], [585, 309], [922, 309], [1264.3, 346]].forEach(l => {
  tempLabels.forEach((name, i) => {
    const y = l[1] + i * 23.4;
    const dot = document.createElement('div');
    dot.className = 'dot';
    dot.style.left = l[0] + 'px';
    dot.style.top = y + 'px';
    dot.style.background = tempColors[i];
    stage.appendChild(dot);
    addText(name, l[0] + 35, y, 18);
  });
});
</script>
</body>
</html>
